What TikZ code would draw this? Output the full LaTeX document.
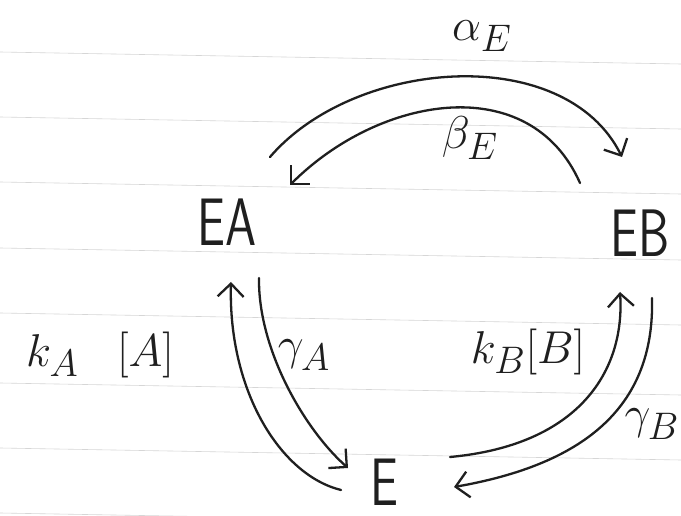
\documentclass[tikz,border=0pt]{standalone}
\usetikzlibrary{arrows.meta}
\begin{document}
\begin{tikzpicture}[x=1pt,y=-1pt,
  ink/.style={draw=black!88,line width=2.3pt,line cap=round,
    -{Straight Barb[length=13pt,width=26pt,line width=2.3pt]}},
  paper/.style={draw=black!16,line width=0.6pt},
  state/.style={inner sep=0pt,xscale=2.0,yscale=2.7,font=\Huge\sffamily,text=black!88},
  rate/.style={inner sep=0pt,scale=1.85,font=\Huge,text=black!88}]
\useasboundingbox (0,0) rectangle (681,516);
\fill[white] (0,0) rectangle (681,516);
% ruled paper
\foreach \y in {52,117,182,248,313,383,448,513}
  \draw[paper] (0,\y) -- (681,\y+12);
% states
\node[state] (EA) at (227,222) {EA};
\node[state] (EB) at (640,233) {EB};
\node[state] (E)  at (384,482) {E};
% rate labels
\node[rate] (aE) at (482,36) {$\alpha_E$};
\node[rate] (bE) at (470,138) {$\beta_E$};
\node[rate] (kA) at (100,355) {$k_A\;\;\;[A]$};
\node[rate] (gA) at (304,355) {$\gamma_A$};
\node[rate] (kB) at (528,352) {$k_B[B]$};
\node[rate] (gB) at (652,424) {$\gamma_B$};
% connector end points
\coordinate (a1) at (270,157);
\coordinate (a2) at (622,157);
\coordinate (b1) at (580,183);
\coordinate (b2) at (290,185);
\coordinate (u1) at (341,490);
\coordinate (u2) at (231,282);
\coordinate (d1) at (259,278);
\coordinate (d2) at (348,468);
\coordinate (v1) at (450,457);
\coordinate (v2) at (620,292);
\coordinate (w1) at (652,298);
\coordinate (w2) at (454,487);
% connectors
\draw[ink] (a1) .. controls (355,58) and (565,42) .. (a2);
\draw[ink] (b1) .. controls (530,70) and (380,95) .. (b2);
\draw[ink] (u1) .. controls (280,475) and (228,390) .. (u2);
\draw[ink] (d1) .. controls (258,350) and (305,430) .. (d2);
\draw[ink] (v1) .. controls (580,445) and (625,370) .. (v2);
\draw[ink] (w1) .. controls (655,410) and (580,465) .. (w2);
\end{tikzpicture}
\end{document}
